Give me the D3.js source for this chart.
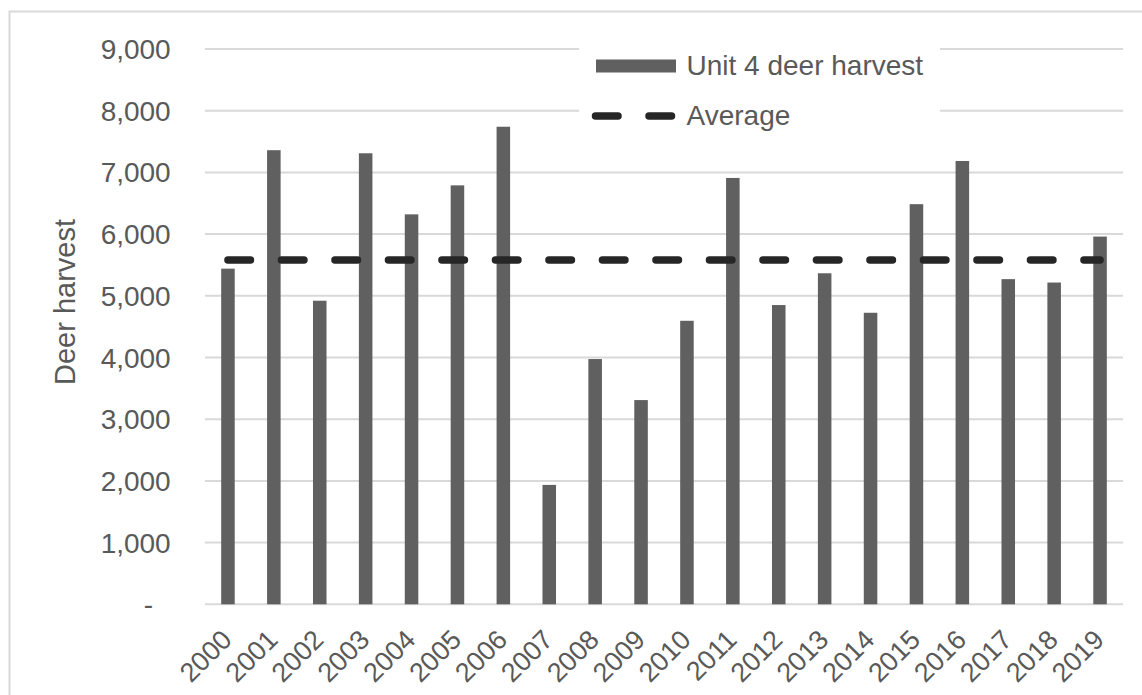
<!DOCTYPE html>
<html>
<head>
<meta charset="utf-8">
<script src="https://cdn.jsdelivr.net/npm/d3@7"></script>
<style>
  html, body { margin: 0; padding: 0; background: #fff; }
  svg { display: block; }
  text { font-family: "Liberation Sans", Arial, sans-serif; fill: #595959; }
</style>
</head>
<body>
<svg id="chart" width="1142" height="695"></svg>
<script>
const years = ["2000","2001","2002","2003","2004","2005","2006","2007","2008","2009",
               "2010","2011","2012","2013","2014","2015","2016","2017","2018","2019"];
const harvest = [5440, 7360, 4920, 7310, 6320, 6790, 7740, 1935, 3975, 3310,
                 4595, 6910, 4850, 5365, 4725, 6485, 7185, 5270, 5215, 5960];
const averageValue = [5580];
const yTicks = [0, 1000, 2000, 3000, 4000, 5000, 6000, 7000, 8000, 9000];
const seriesNames = ["Unit 4 deer harvest", "Average"];
const yTitle = "Deer harvest";

const svg = d3.select("#chart");
const plotLeft = 205, plotRight = 1123, plotTop = 49, plotBottom = 604.3;

// outer frame
svg.append("rect").attr("x", 9.5).attr("y", 11.5).attr("width", 1150).attr("height", 700)
  .attr("fill", "none").attr("stroke", "#d9d9d9").attr("stroke-width", 2);

const x = d3.scaleBand().domain(years).range([plotLeft, plotRight]).paddingInner(0.705).paddingOuter(0.3525);
const xc = d3.scalePoint().domain(years).range([plotLeft, plotRight]).padding(0.5);
const y = d3.scaleLinear().domain([0, 9000]).range([plotBottom, plotTop]);

// gridlines
svg.append("g").selectAll("line").data(yTicks).join("line")
  .attr("x1", plotLeft).attr("x2", plotRight)
  .attr("y1", d => y(d)).attr("y2", d => y(d))
  .attr("stroke", "#d9d9d9").attr("stroke-width", 2);

// y axis labels
const yAxis = d3.axisLeft(y).tickValues(yTicks).tickSize(0).tickPadding(34)
  .tickFormat(d => d === 0 ? "-" : d3.format(",")(d));
const gy = svg.append("g").attr("transform", `translate(${plotLeft},0)`).call(yAxis);
gy.select(".domain").remove();
gy.selectAll("text").style("font-size", "28px").attr("fill", "#595959")
  .attr("dy", "0.34em")
  .attr("x", d => d === 0 ? -52 : -34.3);

// bars
svg.append("g").selectAll("rect").data(harvest).join("rect")
  .attr("x", (d, i) => x(years[i]))
  .attr("width", x.bandwidth())
  .attr("y", d => y(d))
  .attr("height", d => y(0) - y(d))
  .attr("fill", "#606060");

// average dashed line
const avgLine = d3.line().x(d => xc(d)).y(() => y(averageValue[0]));
svg.append("path").datum(years).attr("d", avgLine)
  .attr("fill", "none").attr("stroke", "#262626").attr("stroke-width", 7.5)
  .attr("stroke-linecap", "round").attr("stroke-dasharray", "22.5,31");

// x axis labels
const xAxis = d3.axisBottom(xc).tickSize(0);
const gx = svg.append("g").attr("transform", `translate(0,${plotBottom})`).call(xAxis);
gx.select(".domain").remove();
gx.selectAll("text").style("font-size", "27px").attr("fill", "#595959")
  .attr("y", 0).attr("dy", 0).attr("text-anchor", "end")
  .attr("transform", "translate(5,37) rotate(-45)");

// y title
svg.append("text").attr("transform", "translate(75,302) rotate(-90)")
  .attr("text-anchor", "middle").style("font-size", "29px").text(yTitle);

// legend
const lg = svg.append("g");
lg.append("rect").attr("x", 579).attr("y", 38).attr("width", 361).attr("height", 100).attr("fill", "#fff");
lg.append("rect").attr("x", 596).attr("y", 59.5).attr("width", 80).attr("height", 13).attr("fill", "#606060");
lg.append("text").attr("x", 686.5).attr("y", 75).style("font-size", "28px").text(seriesNames[0]);
lg.append("path").attr("d", "M595.5,116H672.5")
  .attr("stroke", "#262626").attr("stroke-width", 7.5)
  .attr("stroke-linecap", "round").attr("stroke-dasharray", "22.5,31");
lg.append("text").attr("x", 686.5).attr("y", 124.5).style("font-size", "28px").text(seriesNames[1]);
</script>
</body>
</html>
